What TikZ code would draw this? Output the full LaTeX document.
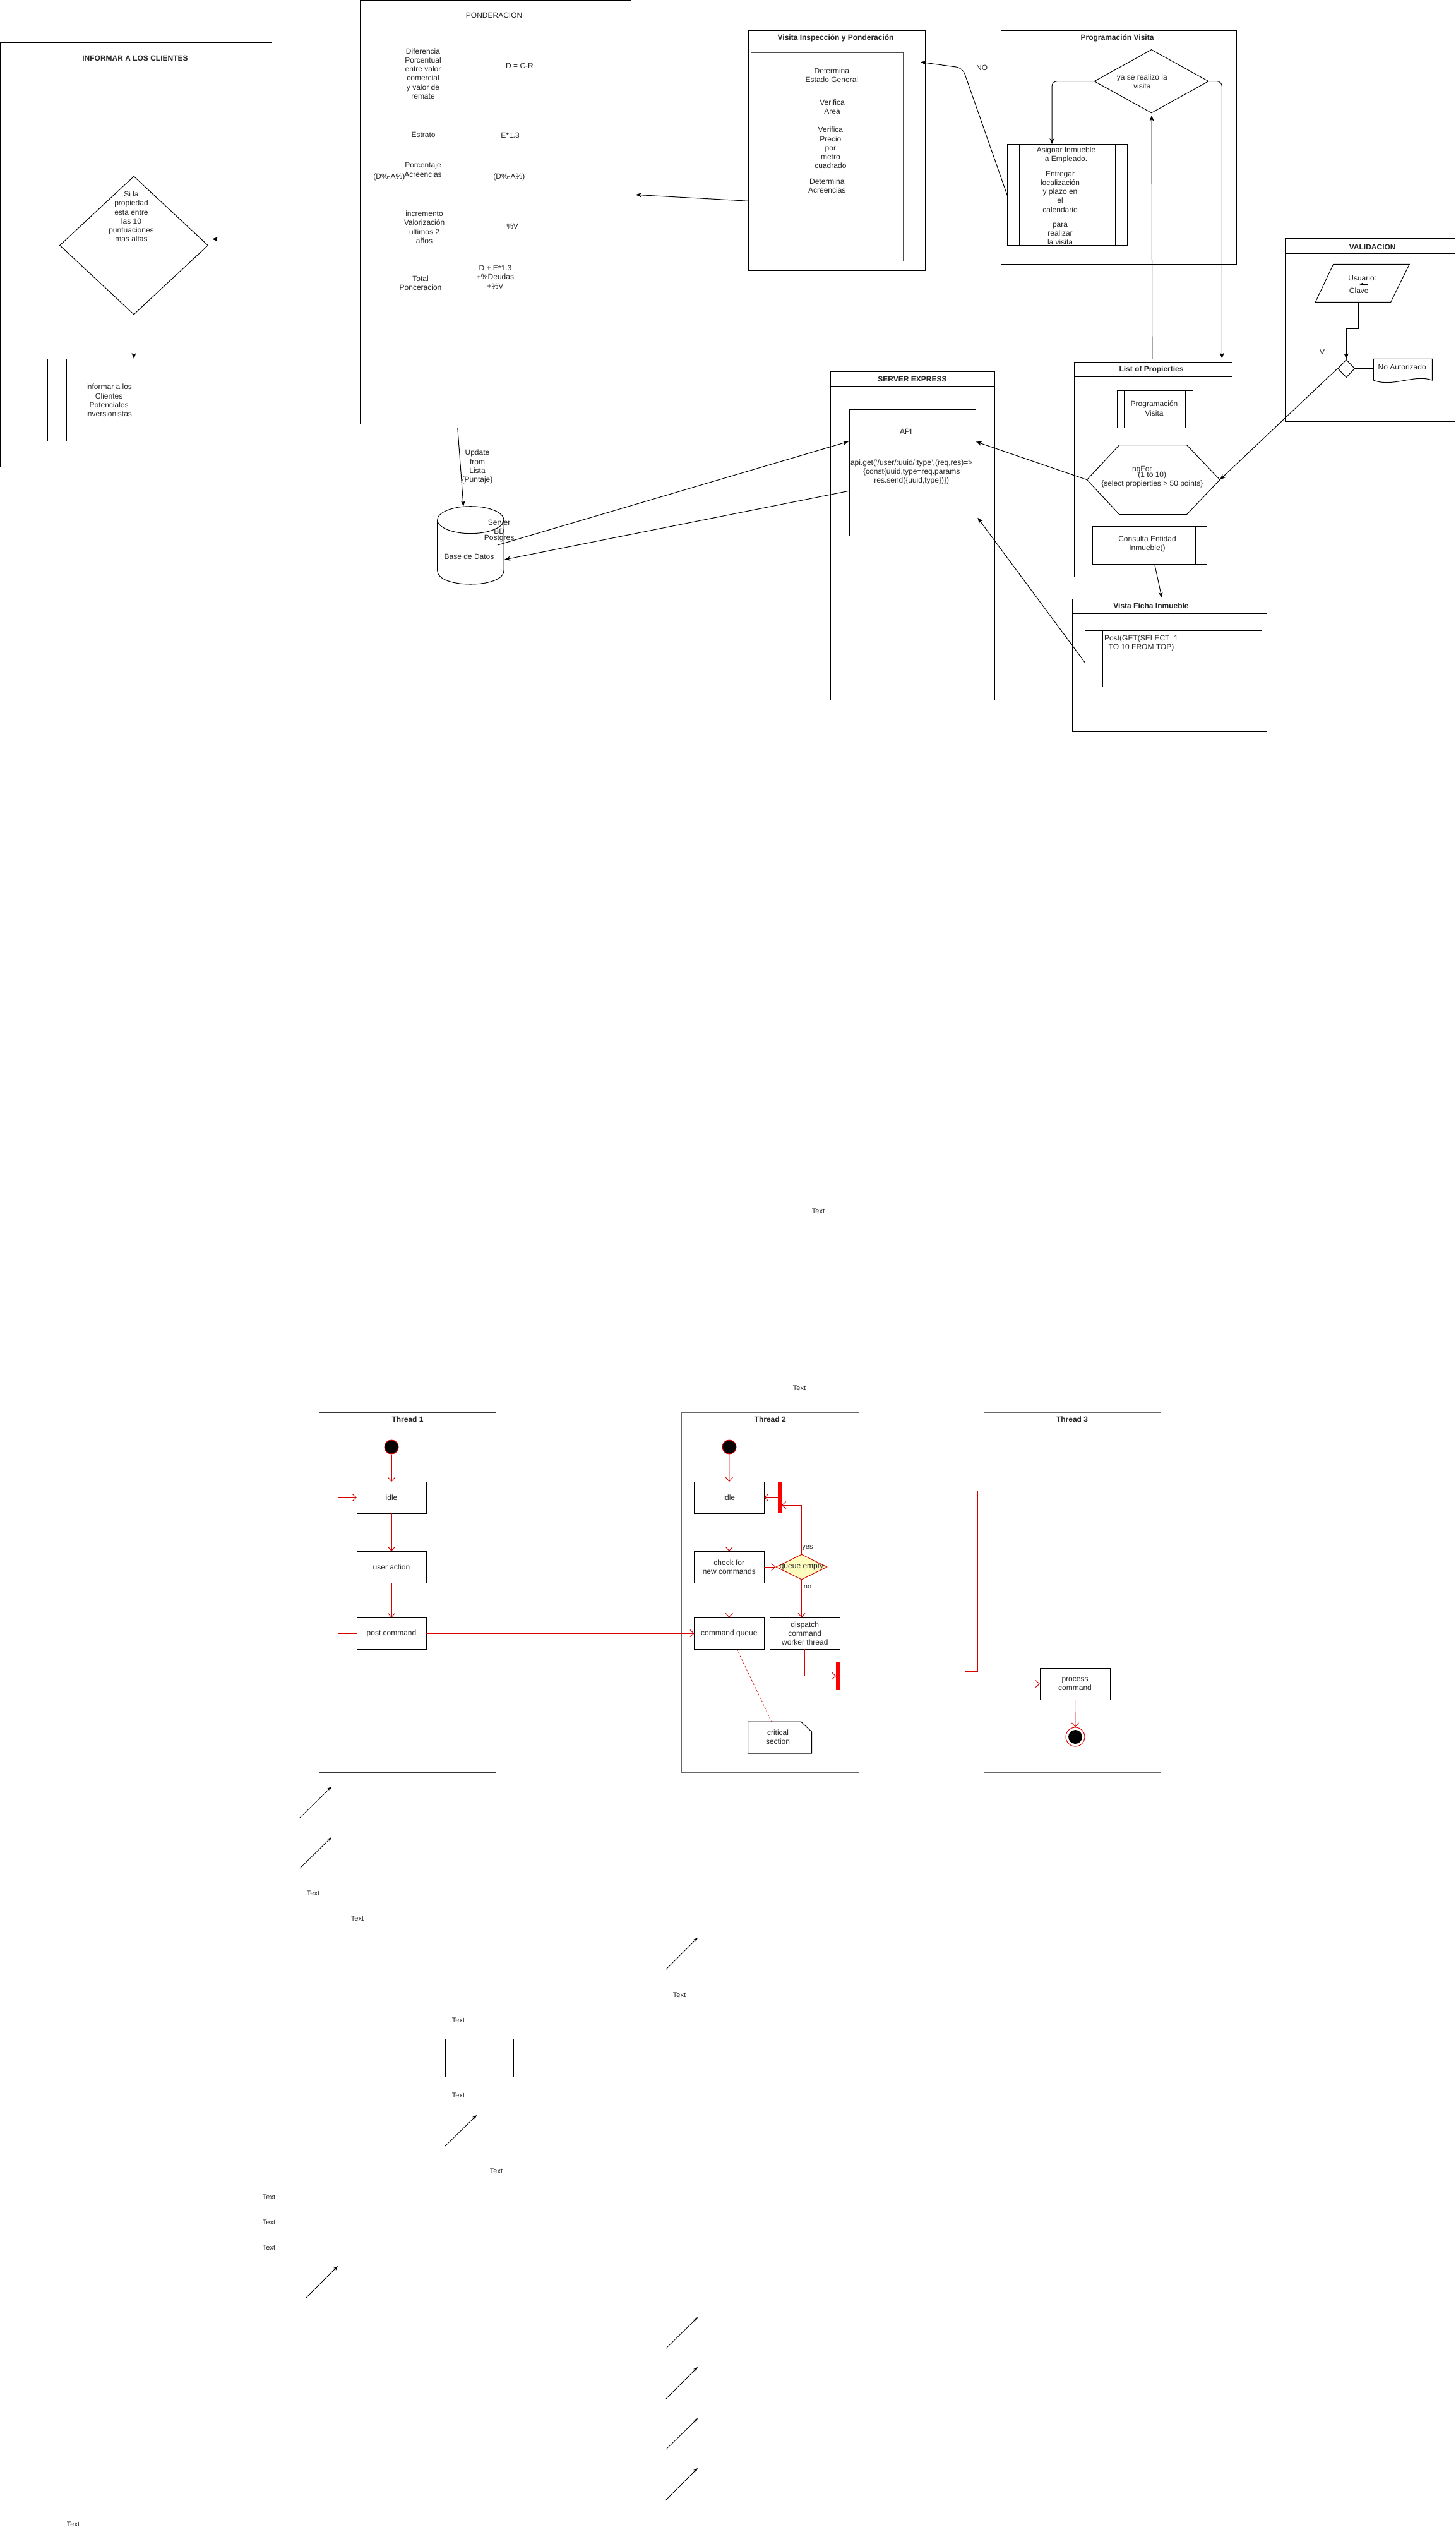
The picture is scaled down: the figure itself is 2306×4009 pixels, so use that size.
\documentclass[tikz,border=0pt]{standalone}
\usepackage{fontspec}
\setmainfont{Liberation Sans}
\usetikzlibrary{arrows.meta,shapes.geometric,calc}
\newcommand{\bx}[6][]{\node[draw,inner sep=0pt,outer sep=0pt,minimum width={(#5-#3)*1pt},minimum height={(#6-#4)*1pt},anchor=north west,#1] (#2) at (#3,#4) {};}
\newcommand{\bxt}[7][]{\node[draw,t,outer sep=0pt,minimum width={(#5-#3)*1pt},minimum height={(#6-#4)*1pt},anchor=north west,#1] (#2) at (#3,#4) {#7};}
\newcommand{\hdr}[2]{\draw ([yshift=-#2pt]#1.north west) -- ([yshift=-#2pt]#1.north east);}
\newcommand{\pls}[3]{\draw ([xshift=#2pt]#1.north west) -- ([xshift=#2pt]#1.south west) ([xshift=-#3pt]#1.north east) -- ([xshift=-#3pt]#1.south east);}
\begin{document}
\begin{tikzpicture}[x=1pt,y=-1pt,line width=1pt,
  t/.style={font=\fontsize{12}{14.2}\selectfont,align=center,inner sep=0pt,text=black!85},
  ts/.style={t,font=\fontsize{11}{13}\selectfont},
  tb/.style={t,font=\fontsize{12}{14.2}\selectfont\bfseries},
  arr/.style={-{Stealth[length=9pt,width=7pt,inset=2.5pt]}},
  sarr/.style={-{Stealth[length=7pt,width=5.5pt,inset=2pt]}},
  rarr/.style={draw=red!85!black,-{Straight Barb[length=6pt,width=11pt]}},
  rln/.style={draw=red!85!black},
  rbar/.style={fill=red,inner sep=0pt,outer sep=0pt}]
\useasboundingbox (0,0) rectangle (2306,4009);
\fill[white] (0,0) rectangle (2306,4009);

% ---------------- INFORMAR A LOS CLIENTES
\bx{inf}{0.5}{68}{430}{739}
\hdr{inf}{47.4}
\node[tb] (inft) at (214,92.6) {INFORMAR A LOS CLIENTES};
\node[draw,diamond,minimum width=235pt,minimum height=219pt,inner sep=0pt] (d1) at (212,388.5) {};
\node[t] (d1t) at (208,343) {Si la\\propiedad\\esta entre\\las 10\\puntuaciones\\mas altas};
\bx{p1}{75.4}{568}{370}{698}
\pls{p1}{30.2}{30}
\node[t] (p1t) at (172.6,634) {informar a los\\Clientes\\Potenciales\\inversionistas};
\draw[arr] (d1.south) -- (d1.south |- p1.north);

% ---------------- PONDERACION
\bx{pon}{570.7}{1}{999.7}{671}
\hdr{pon}{47}
\node[t] (pont) at (782.6,24) {PONDERACION};
\node[t] (pa1) at (670,116.5) {Diferencia\\Porcentual\\entre valor\\comercial\\y valor de\\remate};
\node[t] (pb1) at (823,104) {D = C-R};
\node[t] (pa2) at (670.6,213.8) {Estrato};
\node[t] (pb2) at (808,214.7) {E*1.3};
\node[t] (pa3) at (670,268.8) {Porcentaje\\Acreencias};
\node[t] (pc3) at (616.4,280) {(D\%-A\%)};
\node[t] (pb3) at (806.4,280) {(D\%-A\%)};
\node[t] (pa4) at (672,359.7) {incremento\\Valorización\\ultimos 2\\años};
\node[t] (pb4) at (811.6,358.7) {\%V};
\node[t] (pa5) at (666,448.6) {Total\\Ponceracion};
\node[t] (pb5) at (784.5,438.7) {D + E*1.3\\+\%Deudas\\+\%V};
\coordinate (ponL) at (565.5,378.6);
\coordinate (d1R) at (336,378.6);
\draw[arr] (ponL) -- (d1R);

% ---------------- Base de datos
\node[minimum width=105.3pt,minimum height=123.3pt,inner sep=0pt] (db) at (745.35,863.35) {};
\draw (745.35,823.2) ellipse [x radius=52.65pt,y radius=21.5pt];
\draw (692.7,823.2) -- (692.7,903.5) .. controls (692.7,932.2) and (798,932.2) .. (798,903.5) -- (798,823.2);
\node[t] (dbs) at (790.6,840.5) {Server\\BD\\[-5pt]Postgres};
\node[t] (dbt) at (743,881) {Base de Datos};
\coordinate (ponB) at (724.8,678);
\coordinate (dbT) at (734,801.7);
\draw[arr] (ponB) -- (dbT);
\node[t] (upd) at (756,739) {Update\\from\\Lista\\\{Puntaje\}};

% ---------------- Visita Inspeccion y Ponderacion
\bx{vis}{1185.3}{48.3}{1465.4}{428.3}
\hdr{vis}{23}
\node[tb] (vist) at (1323.6,60.7) {Visita Inspección y Ponderación};
\bx[draw=black!70]{vip}{1189.4}{83.3}{1430.7}{413.3}
\begin{scope}[draw=black!60]
\pls{vip}{25}{24.5}
\end{scope}
\node[t] (v1) at (1317.4,118.9) {Determina\\Estado General};
\node[t] (v2) at (1318,169) {Verifica\\Area};
\node[t] (v3) at (1315.4,234) {Verifica\\Precio\\por\\metro\\cuadrado};
\node[t] (v4) at (1309.8,294) {Determina\\Acreencias};
\coordinate (visL) at (1185.3,318.3);
\coordinate (ponR) at (1006.7,308.3);
\draw[arr] (visL) -- (ponR);

% ---------------- Programacion Visita
\bx{prg}{1585.3}{48.3}{1958.3}{418.3}
\hdr{prg}{23}
\node[tb] (prgt) at (1769.5,60.7) {Programación Visita};
\node[draw,diamond,minimum width=181.1pt,minimum height=100.4pt,inner sep=0pt] (d2) at (1823.6,128.7) {};
\node[t] (d2t) at (1808.8,129.3) {ya se realizo la\\visita};
\bx{asg}{1595.5}{228.3}{1785.3}{388.3}
\pls{asg}{18.9}{18.9}
\node[t] (asg1) at (1688.5,245) {Asignar Inmueble\\a Empleado.};
\node[t] (asg2) at (1679,329.4) {Entregar\\localización\\y plazo en\\el\\calendario\\[9pt]para\\realizar\\la visita};
\coordinate (asgT) at (1666,228.3);
\draw[arr,rounded corners=8pt] (d2.west) -| (asgT);
\coordinate (lstT2) at (1935.3,567.6);
\draw[arr,rounded corners=8pt] (d2.east) -| (lstT2);
\coordinate (asgL) at (1595.5,310);
\coordinate (visR) at (1458.3,98.3);
\draw[arr,rounded corners=10pt] (asgL) -- (1524.6,107.5) -- (visR);
\node[t] (no1) at (1555.2,107) {NO};

% ---------------- SERVER EXPRESS
\bx{srv}{1315.4}{588}{1575}{1108}
\hdr{srv}{23}
\node[tb] (srvt) at (1445,600) {SERVER EXPRESS};
\bx{api}{1345.5}{648.5}{1545.7}{848}
\node[t] (apit) at (1434.7,683) {API};
\node[t] (apic) at (1443.7,747.2) {api.get('/user/:uuid/:type',(req,res)=>\\\{const\{uuid,type=req.params\\res.send(\{uuid,type\})\})};
\coordinate (dbA) at (788,863);
\coordinate (apiL1) at (1344,699);
\draw[arr] (dbA) -- (apiL1);
\coordinate (apiL2) at (1346,777);
\coordinate (dbR) at (799,886);
\draw[arr] (apiL2) -- (dbR);

% ---------------- List of Propierties
\bx{lst}{1701}{573.6}{1951}{913}
\hdr{lst}{23}
\node[tb] (lstt) at (1823.5,585.5) {List of Propierties};
\bx{lpv}{1769}{618.6}{1889}{677.8}
\pls{lpv}{11.6}{11.6}
\node[t] (lpvt) at (1828,646.6) {Programación\\Visita};
\coordinate (hexL) at (1721.5,759.6);
\coordinate (hexR) at (1932,759.6);
\draw (hexL) -- (1772.9,704.5) -- (1879.4,704.5) -- (hexR) -- (1879.4,814.7) -- (1772.9,814.7) -- cycle;
\node[t] (hx1) at (1808.8,744) {ngFor};
\node[t] (hx2) at (1824.8,752) {(1 to 10)};
\node[t] (hx3) at (1824.8,766) {\{select propierties > 50 points\}};
\bx{cns}{1730.5}{833.5}{1911.4}{893.6}
\pls{cns}{18}{17.9}
\node[t] (cnst) at (1817,861.7) {Consulta Entidad\\Inmueble()};
\coordinate (lstT1) at (1824.8,568.6);
\coordinate (d2B) at (1824,182.7);
\draw[arr] (lstT1) -- (d2B);
\coordinate (apiR1) at (1545.7,699.4);
\draw[arr] (hexL) -- (apiR1);

% ---------------- Vista Ficha Inmueble
\bx{vfi}{1698.4}{948}{2006.4}{1158.5}
\hdr{vfi}{23}
\node[tb] (vfit) at (1823,958.8) {Vista Ficha Inmueble};
\bx{vfp}{1718.3}{998.3}{1998}{1087.8}
\pls{vfp}{28.3}{27.5}
\node[t] (vfpt) at (1807.5,1018.5) {Post(GET(SELECT\ \ 1\\TO 10 FROM TOP)};
\coordinate (cnsB) at (1828.7,893.6);
\coordinate (vfiT) at (1840,946.4);
\draw[arr] (cnsB) -- (vfiT);
\coordinate (vfpL) at (1718.3,1049);
\coordinate (apiR2) at (1548.3,819.7);
\draw[arr] (vfpL) -- (apiR2);

% ---------------- VALIDACION
\bx{val}{2035.7}{377.7}{2304.5}{667.7}
\hdr{val}{24}
\node[tb] (valt) at (2173.7,391) {VALIDACION};
\draw (2111.7,418.3) -- (2232.3,418.3) -- (2202.7,478.3) -- (2083.3,478.3) -- cycle;
\node[t] (usr) at (2157.7,440) {Usuario:};
\node[t] (clv) at (2152.3,460) {Clave};
\coordinate (sa1) at (2167,450);
\coordinate (sa2) at (2153,450);
\draw[-{Stealth[length=6pt,width=5pt,inset=1.5pt]}] (sa1) -- (sa2);
\node[draw,diamond,minimum width=27pt,minimum height=28.4pt,inner sep=0pt] (d3) at (2132.2,583.5) {};
\coordinate (parB) at (2151.7,478.3);
\draw[arr] (parB) -- (2151.7,520) -- (2132.2,520) -- (d3.north);
\node[inner sep=0pt,minimum width=93pt,minimum height=34pt] (noa) at (2221.8,585.3) {};
\draw (2175.3,568.3) -- (2268.3,568.3) -- (2268.3,602) .. controls (2240,592) and (2205,614) .. (2175.3,602) -- cycle;
\node[t] (noat) at (2220.7,581.7) {No Autorizado};
\draw (d3.east) -- (d3.east -| noa.west);
\node[t] (vv) at (2094,557.7) {V};
\draw[arr] (d3.west) -- (hexR);

% ---------------- Threads
\node[ts] (tx1) at (1296,1918) {Text};
\node[ts] (tx2) at (1266,2198) {Text};

\bx[draw=black!80]{th1}{505.5}{2236}{785.6}{2806}
\hdr{th1}{23}
\node[tb] (th1t) at (645.5,2247.5) {Thread 1};
\bx[draw=black!60]{th2}{1079.5}{2236}{1360}{2806}
\hdr{th2}{23}
\node[tb] (th2t) at (1219.7,2247.5) {Thread 2};
\bx[draw=black!60]{th3}{1558}{2236}{1838}{2806}
\hdr{th3}{23}
\node[tb] (th3t) at (1698,2247.5) {Thread 3};

% Thread 1
\node[circle,draw=red!85!black,fill=black,minimum size=22pt,inner sep=0pt] (s1) at (620,2291) {};
\bxt{i1}{565}{2346}{675}{2396}{idle}
\bxt{u1}{565}{2456}{675}{2506}{user action}
\bxt{pc1}{565}{2561}{675}{2611}{post command}
\draw[rarr] (s1) -- (i1);
\draw[rarr] (i1) -- (u1);
\draw[rarr] (u1) -- (pc1);
\draw[rarr] (pc1.west) -- (535,2586) -- (535,2371) -- (i1.west);

% Thread 2
\node[circle,draw=red!85!black,fill=black,minimum size=22pt,inner sep=0pt] (s2) at (1155,2291) {};
\bxt{i2}{1099.6}{2346}{1210}{2396}{idle}
\bxt{ck}{1099.6}{2456}{1210}{2506}{check for\\new commands}
\bxt{cq}{1099.6}{2561}{1210}{2611}{command queue}
\bxt{dsp}{1219.6}{2561}{1330}{2611}{dispatch\\command\\worker thread}
\node[diamond,draw=red!85!black,fill=yellow!25,minimum width=81pt,minimum height=40pt,inner sep=0pt] (d4) at (1269.5,2481) {};
\node[t] (d4t) at (1269.5,2481) {queue empty};
\node[rbar,minimum width=5.7pt,minimum height=50pt] (b1) at (1235.2,2371) {};
\node[rbar,minimum width=6pt,minimum height=45pt] (b2) at (1327.3,2653.5) {};
\draw[rarr] (s2) -- (i2);
\draw[rarr] (i2) -- (ck);
\draw[rarr] (ck) -- (cq);
\draw[rarr] (ck.east) -- (d4.west);
\coordinate (b1y) at (1238,2383);
\draw[rarr] (d4.north) |- (b1y);
\draw[rarr] (b1.west) -- (i2.east);
\draw[rarr] (d4.south) -- (d4.south |- dsp.north);
\draw[rarr] (dsp.south) |- (b2.west);
\draw[rarr] (pc1.east) -- (cq.west);
\node[ts] (yes) at (1279,2451) {yes};
\node[ts] (nol) at (1279,2513) {no};
\node[inner sep=0pt,minimum width=101pt,minimum height=50pt] (nt) at (1235.1,2751) {};
\draw (1184.6,2726) -- (1268.6,2726) -- (1285.6,2742) -- (1285.6,2776) -- (1184.6,2776) -- cycle;
\draw (1268.6,2726) -- (1268.6,2742) -- (1285.6,2742);
\node[t] (ntt) at (1232,2750) {critical\\section};
\coordinate (cqB) at (1167,2611);
\coordinate (ntT) at (1222,2726);
\draw[red!85!black,line width=0.8pt,dash pattern=on 3pt off 3pt] (cqB) -- (ntT);

% Thread 3
\bxt{pcm}{1647}{2641}{1758}{2691}{process\\command}
\node[circle,draw=red!85!black,fill=white,minimum size=30pt,inner sep=0pt] (e3) at (1703,2750) {};
\node[circle,fill=black,minimum size=22pt,inner sep=0pt] (e3i) at (1703,2750) {};
\coordinate (b1r) at (1238,2360);
\coordinate (t3a) at (1528,2646);
\draw[rln] (b1r) -- (1548,2360) -- (1548,2646) -- (t3a);
\coordinate (t3b) at (1528,2666);
\draw[rarr] (t3b) -- (pcm.west);
\draw[rarr] (pcm.south) -- (e3.north);

% ---------------- loose items at the bottom
\coordinate (a1s) at (475,2878); \coordinate (a1e) at (525,2829);
\coordinate (a2s) at (475,2958); \coordinate (a2e) at (525,2909);
\coordinate (a3s) at (1055,3118); \coordinate (a3e) at (1105,3068);
\coordinate (a4s) at (705,3398); \coordinate (a4e) at (755,3349);
\coordinate (a5s) at (485,3638); \coordinate (a5e) at (535,3588);
\coordinate (a6s) at (1055,3718); \coordinate (a6e) at (1105,3669);
\coordinate (a7s) at (1055,3798); \coordinate (a7e) at (1105,3748);
\coordinate (a8s) at (1055,3878); \coordinate (a8e) at (1105,3829);
\coordinate (a9s) at (1055,3958); \coordinate (a9e) at (1105,3908);
\foreach \i in {1,...,9} {\draw[sarr,line width=0.8pt] (a\i s) -- (a\i e);}
\node[ts] (bt1) at (496,2998) {Text};
\node[ts] (bt2) at (566,3038) {Text};
\node[ts] (bt3) at (1076,3158.5) {Text};
\node[ts] (bt4) at (726,3199) {Text};
\node[ts] (bt5) at (726,3318) {Text};
\node[ts] (bt6) at (786,3438) {Text};
\node[ts] (bt7) at (426,3478.5) {Text};
\node[ts] (bt8) at (426,3518.6) {Text};
\node[ts] (bt9) at (426,3558.7) {Text};
\node[ts] (bt10) at (116,3997) {Text};
\bx{pb}{705}{3228}{826}{3288}
\pls{pb}{12}{13}
\end{tikzpicture}
\end{document}
